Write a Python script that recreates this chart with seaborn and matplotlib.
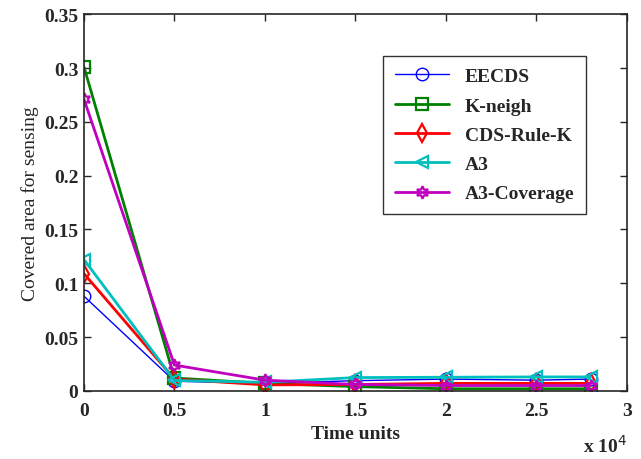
import pandas as pd
import matplotlib.pyplot as plt
import seaborn as sns

# -------------------------------
# Data
# -------------------------------
time_units = [0, 5000, 10000, 15000, 20000, 25000, 28000]
eecds = [0.088, 0.009, 0.007, 0.0095, 0.011, 0.010, 0.011]
k_neigh = [0.301, 0.012, 0.007, 0.004, 0.002, 0.002, 0.002]
cds_rule_k = [0.109, 0.011, 0.0056, 0.006, 0.007, 0.007, 0.007]
a3 = [0.122, 0.0097, 0.008, 0.0124, 0.0127, 0.013, 0.013]
a3_coverage = [0.271, 0.024, 0.010, 0.006, 0.005, 0.005, 0.005]

y_ticks = [0, 0.05, 0.1, 0.15, 0.2, 0.25, 0.3, 0.35]
y_tick_labels = ["0", "0.05", "0.1", "0.15", "0.2", "0.25", "0.3", "0.35"]
x_ticks = [0, 5000, 10000, 15000, 20000, 25000, 30000]
x_tick_labels = ["0", "0.5", "1", "1.5", "2", "2.5", "3"]

series = [
    ("EECDS", eecds, "#0000ff", "o", 1.0),
    ("K-neigh", k_neigh, "#008000", "s", 2.0),
    ("CDS-Rule-K", cds_rule_k, "#ff0000", "d", 2.0),
    ("A3", a3, "#00bfbf", "<", 2.0),
    ("A3-Coverage", a3_coverage, "#bf00bf", (6, 1, 0), 2.0),
]

# -------------------------------
# Setup
# -------------------------------
sns.set_style("ticks")
plt.rcParams["font.family"] = ["Liberation Serif", "DejaVu Serif"]

fig = plt.figure(figsize=(6.41, 4.6), dpi=100)
ax = fig.add_axes([0.131, 0.148, 0.847, 0.819])

for name, vals, color, marker, lw in series:
    df = pd.DataFrame({"t": time_units, "v": vals})
    sns.lineplot(data=df, x="t", y="v", ax=ax, color=color, marker=marker,
                 markersize=9, markerfacecolor="none", markeredgecolor=color,
                 markeredgewidth=1.6 if lw > 1 else 1.0, linewidth=lw, label=name)

ax.set_xlim(0, 30000)
ax.set_ylim(0, 0.35)
ax.set_xticks(x_ticks)
ax.set_xticklabels(x_tick_labels, fontweight="bold", fontsize=14)
ax.set_yticks(y_ticks)
ax.set_yticklabels(y_tick_labels, fontweight="bold", fontsize=14)
ax.tick_params(direction="in", top=True, right=True, length=5, width=1)
ax.tick_params(axis="x", pad=8)
ax.tick_params(axis="y", pad=4)
for s in ax.spines.values():
    s.set_linewidth(1.2)

ax.set_xlabel("Time units", fontweight="bold", fontsize=14, labelpad=4)
ax.set_ylabel("Covered area for sensing", fontsize=14, labelpad=4)
ax.text(1.0, -0.115, "x 10$^{4}$", transform=ax.transAxes, fontsize=14,
        fontweight="bold", ha="right", va="top")

leg = ax.legend(loc="upper left", bbox_to_anchor=(0.551, 0.889),
                prop={"weight": "bold", "size": 14}, frameon=True,
                fancybox=False, edgecolor="black", handlelength=2.8,
                labelspacing=0.6, borderpad=0.6, borderaxespad=0)
leg.get_frame().set_linewidth(1.0)

plt.savefig("out.png", dpi=100)
plt.close()
